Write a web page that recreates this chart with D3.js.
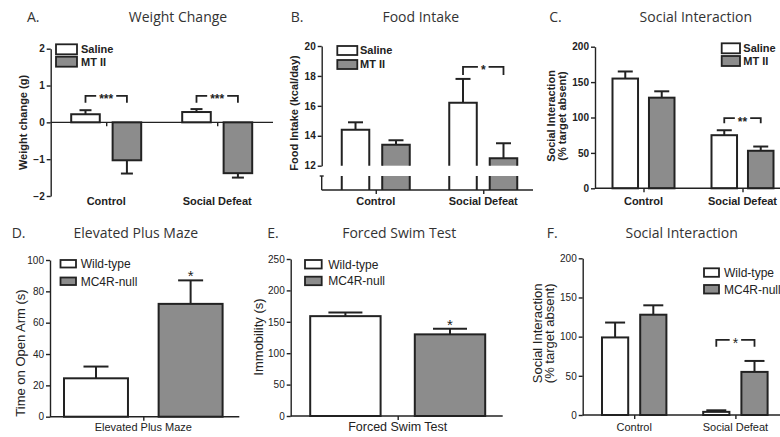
<!DOCTYPE html>
<html>
<head>
<meta charset="utf-8">
<script src="https://cdn.jsdelivr.net/npm/d3@7"></script>
<style>
  body { margin: 0; background: #fff; }
  svg { display: block; }
</style>
</head>
<body>
<svg id="fig" width="780" height="437"></svg>
<script>
"use strict";

// shared categories
const treatGroups = ["Control", "Social Defeat"];
const treatSeries = ["Saline", "MT II"];
const geneSeries = ["Wild-type", "MC4R-null"];

// A. weight change (g)
const weightSaline = [0.22, 0.28], weightSalineErr = [0.11, 0.08];
const weightMT = [-1.03, -1.38], weightMTErr = [0.36, 0.12];
const weightTicks = [-2, -1, 0, 1, 2];
const weightSig = ["***", "***"], weightSigLevel = [0.72, 0.72];

// B. food intake (kcal/day)
const foodSaline = [14.4, 16.2], foodSalineErr = [0.5, 1.6];
const foodMT = [13.4, 12.5], foodMTErr = [0.3, 1.0];
const foodTicks = [12, 14, 16, 18, 20];
const foodSig = ["", "*"], foodSigLevel = [null, 18.6];

// C. social interaction, MT II
const socialSaline = [155, 75], socialSalineErr = [10, 7];
const socialMT = [128, 53], socialMTErr = [9, 6];
const socialTicks = [0, 50, 100, 150, 200];
const socialSig = ["", "**"], socialSigLevel = [null, 99];

// D. elevated plus maze
const mazeGroups = ["Elevated Plus Maze"];
const mazeWT = [24.5], mazeWTErr = [7.5];
const mazeKO = [72], mazeKOErr = [15];
const mazeTicks = [0, 20, 40, 60, 80, 100];
const mazeStar = ["*"];

// E. forced swim test
const swimGroups = ["Forced Swim Test"];
const swimWT = [159], swimWTErr = [6];
const swimKO = [130], swimKOErr = [9];
const swimTicks = [0, 50, 100, 150, 200, 250];
const swimStar = ["*"];

// F. social interaction, MC4R
const geneSocialWT = [99, 4], geneSocialWTErr = [19, 2];
const geneSocialKO = [128, 55], geneSocialKOErr = [12, 14];
const geneSocialTicks = [0, 50, 100, 150, 200];
const geneSocialSig = ["", "*"], geneSocialSigLevel = [null, 96];

const svg = d3.select("#fig");
const INK = "#222";
const GRAY = "#8c8c8c";
const SANS = "'Liberation Sans', Arial, sans-serif";

function drawPanel(c) {
    const g = svg.append("g");
    const weight = c.bold ? "bold" : "normal";
    const x = d3.scalePoint().domain(c.groups).range(c.xRange).padding(0.5);
    const inner = d3.scaleBand().domain(c.series)
        .range([-c.innerHalf, c.innerHalf]).paddingInner(c.innerPad);
    const y = d3.scaleLinear().domain(c.yDomain).range(c.yRange);
    const bw = inner.bandwidth();
    const base = c.base || 0;
    const xAxisY = c.broken ? c.broken.bottom : y(base);

    // panel letter + title
    g.append("text").attr("x", c.letterX).attr("y", c.titleY)
        .attr("font-family", "'Open Sans', sans-serif").attr("font-size", 14)
        .attr("fill", "#333").text(c.letter);
    g.append("text").attr("x", c.titleX).attr("y", c.titleY)
        .attr("text-anchor", "middle")
        .attr("font-family", "'Open Sans', sans-serif").attr("font-size", 14)
        .attr("fill", "#333").text(c.title);

    // y axis
    const ya = g.append("g")
        .attr("transform", `translate(${c.axisLeft},0)`)
        .call(d3.axisLeft(y).tickValues(c.ticks).tickFormat(d3.format("d"))
            .tickSize(4).tickSizeOuter(0).tickPadding(2));
    ya.select(".domain").attr("stroke", INK).attr("stroke-width", 1.4);
    ya.selectAll(".tick line").attr("stroke", INK).attr("stroke-width", 1.4);
    ya.selectAll(".tick text").attr("font-family", SANS).attr("font-weight", weight)
        .attr("font-size", c.tickSize).attr("fill", INK);

    // broken-axis stub (panel B)
    if (c.broken) {
        g.append("line").attr("x1", c.axisLeft).attr("x2", c.axisLeft)
            .attr("y1", c.broken.top).attr("y2", c.broken.bottom)
            .attr("stroke", INK).attr("stroke-width", 1.4);
        g.append("line").attr("x1", c.axisLeft - 2).attr("x2", c.axisLeft + 2)
            .attr("y1", c.broken.top).attr("y2", c.broken.top)
            .attr("stroke", INK).attr("stroke-width", 1.4);
    }

    // bars with error bars
    c.series.forEach((s, si) => {
        c.groups.forEach((grp, gi) => {
            const v = c.values[si][gi], e = c.errors[si][gi];
            const x0 = x(grp) + inner(s), x1 = x0 + bw, xm = (x0 + x1) / 2;
            const yv = y(v), yb = y(base);
            const ye = y(v + (v >= base ? e : -e));
            g.append("line").attr("x1", xm).attr("x2", xm)
                .attr("y1", yv).attr("y2", ye).attr("stroke", INK).attr("stroke-width", 2);
            g.append("line").attr("x1", xm - c.cap / 2).attr("x2", xm + c.cap / 2)
                .attr("y1", ye).attr("y2", ye).attr("stroke", INK).attr("stroke-width", 2);
            if (c.broken) {
                g.append("rect").attr("x", x0).attr("y", yv).attr("width", bw)
                    .attr("height", yb - yv).attr("fill", si ? GRAY : "#fff");
                g.append("path").attr("d", `M${x0},${yb}V${yv}H${x1}V${yb}`)
                    .attr("fill", "none").attr("stroke", INK).attr("stroke-width", 2);
                g.append("rect").attr("x", x0).attr("y", c.broken.top).attr("width", bw)
                    .attr("height", c.broken.bottom - c.broken.top).attr("fill", si ? GRAY : "#fff");
                g.append("path").attr("d", `M${x0},${c.broken.top}V${c.broken.bottom}M${x1},${c.broken.top}V${c.broken.bottom}`)
                    .attr("fill", "none").attr("stroke", INK).attr("stroke-width", 2);
            } else {
                g.append("rect").attr("x", x0).attr("y", Math.min(yv, yb)).attr("width", bw)
                    .attr("height", Math.abs(yb - yv)).attr("fill", si ? GRAY : "#fff")
                    .attr("stroke", INK).attr("stroke-width", 2);
            }
            // star over a single bar
            if (c.stars && si === 1 && c.stars[gi]) {
                g.append("text").attr("x", xm).attr("y", ye + 1)
                    .attr("text-anchor", "middle").attr("font-family", SANS)
                    .attr("font-size", 15).attr("fill", INK).text(c.stars[gi]);
            }
        });
    });

    // x axis line + ticks
    g.append("line").attr("x1", c.axisLeft).attr("x2", c.axisEnd)
        .attr("y1", xAxisY).attr("y2", xAxisY).attr("stroke", INK).attr("stroke-width", 1.4);
    const xa = g.append("g").attr("transform", `translate(0,${xAxisY})`)
        .call(d3.axisBottom(x).tickSize(4).tickSizeOuter(0).tickFormat(""));
    xa.select(".domain").remove();
    xa.selectAll(".tick line").attr("stroke", INK).attr("stroke-width", 1.4);

    // group labels
    g.selectAll(null).data(c.groups).enter().append("text")
        .attr("x", d => x(d)).attr("y", c.groupLabelY)
        .attr("text-anchor", "middle").attr("font-family", SANS)
        .attr("font-weight", weight).attr("font-size", c.groupLabelSize)
        .attr("fill", INK).text(d => d);

    // y label
    c.yLabel.forEach((t, i) => {
        g.append("text")
            .attr("transform", `translate(${c.yLabelX[i]},${c.yLabelY}) rotate(-90)`)
            .attr("text-anchor", "middle").attr("font-family", SANS)
            .attr("font-weight", weight).attr("font-size", c.yLabelSize)
            .attr("fill", INK).text(t);
    });

    // legend
    const L = c.legend;
    c.series.forEach((s, si) => {
        g.append("rect").attr("x", L.x).attr("y", L.ys[si]).attr("width", L.w).attr("height", L.h)
            .attr("fill", si ? GRAY : "#fff").attr("stroke", INK).attr("stroke-width", 1.8);
        g.append("text").attr("x", L.textX).attr("y", L.ys[si] + L.h / 2 + L.size * 0.36)
            .attr("font-family", SANS).attr("font-weight", weight).attr("font-size", L.size)
            .attr("fill", INK).text(s);
    });

    // significance brackets
    if (c.sig) {
        c.groups.forEach((grp, gi) => {
            if (!c.sig[gi]) return;
            const xa0 = x(grp) + inner(c.series[0]) + bw / 2;
            const xa1 = x(grp) + inner(c.series[1]) + bw / 2;
            const yl = y(c.sigLevel[gi]);
            const mid = (xa0 + xa1) / 2;
            const t = g.append("text").attr("x", mid).attr("y", yl + c.sigSize * 0.62)
                .attr("text-anchor", "middle").attr("font-family", SANS)
                .attr("font-weight", weight).attr("font-size", c.sigSize)
                .attr("fill", INK).text(c.sig[gi]);
            const half = t.node().getComputedTextLength() / 2 + 3;
            g.append("path")
                .attr("d", `M${xa0},${yl + c.sigDrop}V${yl}H${mid - half}M${mid + half},${yl}H${xa1}V${yl + c.sigDrop}`)
                .attr("fill", "none").attr("stroke", INK).attr("stroke-width", 1.8);
        });
    }
}

// A
drawPanel({
    letter: "A.", letterX: 27, title: "Weight Change", titleX: 178, titleY: 22,
    groups: treatGroups, series: treatSeries,
    values: [weightSaline, weightMT], errors: [weightSalineErr, weightMTErr],
    xRange: [50.7, 272.7], innerHalf: 35, innerPad: 0.31,
    yDomain: [-2, 2], yRange: [196, 48.7], ticks: weightTicks,
    axisLeft: 50.7, axisEnd: 273, bold: true, tickSize: 10,
    groupLabelY: 205, groupLabelSize: 11,
    yLabel: ["Weight change (g)"], yLabelX: [27], yLabelY: 122.5, yLabelSize: 11,
    legend: { x: 56, ys: [44.3, 56.7], w: 21, h: 10, textX: 81, size: 11 },
    cap: 12, sig: weightSig, sigLevel: weightSigLevel, sigDrop: 7, sigSize: 12
});

// B
drawPanel({
    letter: "B.", letterX: 290.7, title: "Food Intake", titleX: 420.8, titleY: 22,
    groups: treatGroups, series: treatSeries,
    values: [foodSaline, foodMT], errors: [foodSalineErr, foodMTErr],
    xRange: [322, 537], innerHalf: 34, innerPad: 0.32,
    yDomain: [12, 20], yRange: [165.7, 46], ticks: foodTicks, base: 12,
    broken: { top: 176, bottom: 190 },
    axisLeft: 321.7, axisEnd: 533, bold: true, tickSize: 10,
    groupLabelY: 205, groupLabelSize: 11,
    yLabel: ["Food Intake (kcal/day)"], yLabelX: [297.5], yLabelY: 113, yLabelSize: 11,
    legend: { x: 337.3, ys: [46, 60], w: 20, h: 9, textX: 360, size: 11 },
    cap: 15, sig: foodSig, sigLevel: foodSigLevel, sigDrop: 8, sigSize: 12
});

// C
drawPanel({
    letter: "C.", letterX: 549.3, title: "Social Interaction", titleX: 695.8, titleY: 22,
    groups: treatGroups, series: treatSeries,
    values: [socialSaline, socialMT], errors: [socialSalineErr, socialMTErr],
    xRange: [594, 792], innerHalf: 31, innerPad: 0.30,
    yDomain: [0, 200], yRange: [188.3, 46.7], ticks: socialTicks,
    axisLeft: 595, axisEnd: 780, bold: true, tickSize: 10,
    groupLabelY: 205, groupLabelSize: 11,
    yLabel: ["Social Interaction", "(% target absent)"], yLabelX: [554.5, 566], yLabelY: 116, yLabelSize: 11,
    legend: { x: 721.7, ys: [43.3, 56], w: 18.3, h: 10, textX: 743.3, size: 11 },
    cap: 15, sig: socialSig, sigLevel: socialSigLevel, sigDrop: 5, sigSize: 12
});

// D
drawPanel({
    letter: "D.", letterX: 11.7, title: "Elevated Plus Maze", titleX: 135.8, titleY: 238,
    groups: mazeGroups, series: geneSeries,
    values: [mazeWT, mazeKO], errors: [mazeWTErr, mazeKOErr],
    xRange: [50, 236.6], innerHalf: 79.3, innerPad: 0.324,
    yDomain: [0, 100], yRange: [416.7, 260], ticks: mazeTicks,
    axisLeft: 50, axisEnd: 239.3, bold: false, tickSize: 10,
    groupLabelY: 431, groupLabelSize: 11,
    yLabel: ["Time on Open Arm (s)"], yLabelX: [24.5], yLabelY: 353, yLabelSize: 13,
    legend: { x: 60.5, ys: [260, 277.5], w: 15.5, h: 7.5, textX: 80.7, size: 12 },
    cap: 25, stars: mazeStar
});

// E
drawPanel({
    letter: "E.", letterX: 267.3, title: "Forced Swim Test", titleX: 399.2, titleY: 238,
    groups: swimGroups, series: geneSeries,
    values: [swimWT, swimKO], errors: [swimWTErr, swimKOErr],
    xRange: [290.7, 504.7], innerHalf: 87.5, innerPad: 0.327,
    yDomain: [0, 250], yRange: [416, 259], ticks: swimTicks,
    axisLeft: 290.7, axisEnd: 502.7, bold: false, tickSize: 10,
    groupLabelY: 431, groupLabelSize: 12.5,
    yLabel: ["Immobility (s)"], yLabelX: [262.5], yLabelY: 337, yLabelSize: 13,
    legend: { x: 305, ys: [260, 276.7], w: 16.7, h: 8.5, textX: 328.3, size: 12 },
    cap: 34, stars: swimStar
});

// F
drawPanel({
    letter: "F.", letterX: 546.7, title: "Social Interaction", titleX: 681.7, titleY: 238,
    groups: treatGroups, series: geneSeries,
    values: [geneSocialWT, geneSocialKO], errors: [geneSocialWTErr, geneSocialKOErr],
    xRange: [583.6, 786], innerHalf: 32.2, innerPad: 0.314,
    yDomain: [0, 200], yRange: [415, 258.3], ticks: geneSocialTicks,
    axisLeft: 582.7, axisEnd: 780, bold: false, tickSize: 10,
    groupLabelY: 431, groupLabelSize: 11,
    yLabel: ["Social Interaction", "(% target absent)"], yLabelX: [542, 554], yLabelY: 333.3, yLabelSize: 13,
    legend: { x: 704, ys: [268.3, 285], w: 15, h: 8.5, textX: 724, size: 12 },
    cap: 20, sig: geneSocialSig, sigLevel: geneSocialSigLevel, sigDrop: 7, sigSize: 14
});
</script>
</body>
</html>
